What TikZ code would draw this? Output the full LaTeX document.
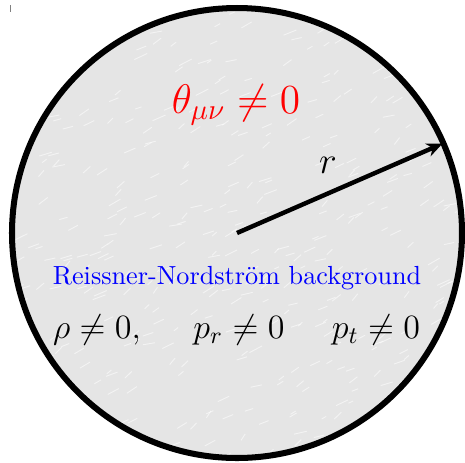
\RequirePackage{fix-cm}
\documentclass[tikz,border=0pt]{standalone}
\usepackage{amsmath}
\usepackage{amssymb}
\usetikzlibrary{arrows.meta,calc}

\begin{document}
\begin{tikzpicture}[
      x=0.382pt, y=-0.382pt,
      >={Stealth[length=6pt,width=5.2pt]},
      sphere/.style={draw=black, line width=2.3pt},
      radius arrow/.style={->, line width=1.7pt},
      lbl/.style={inner sep=0pt, anchor=base},
      big/.style={font=\fontsize{15.8}{19}\selectfont},
      mid/.style={font=\fontsize{13}{15}\selectfont}
    ]
      \useasboundingbox (0,0) rectangle (465,462);
      \clip (0,0) rectangle (465,462);
      \pgfmathsetseed{7}

      \coordinate (c) at (237,233);
      \coordinate (rim) at ($(c)+(-23.5:224)$);

      \fill[gray!20] (c) circle (225);
      % texture
      \begin{scope}
        \clip (c) circle (225);
        \foreach \i in {1,...,450}{
          \draw[white, opacity=.55, line width=.35pt]
            ($(c)+(rand*235,rand*235)$) -- ++(4+rnd*9,-2-rnd*5);
        }
      \end{scope}
      \draw[sphere] (c) circle (225);

      \draw[gray, line width=.5pt] (10.5,5) -- (10.5,11.5);

      \draw[radius arrow] (c) -- (rim);

      \node[lbl, text=red, big] (theta) at (236,113) {$\theta_{\mu\nu}\neq 0$};
      \node[lbl, font=\Large] (r) at (328,173) {$r$};
      \node[lbl, text=blue] (rn) at (237,284) {Reissner-Nordstr\"om background};
      \node[lbl, mid] (rho) at (97,338) {$\rho\neq 0,$};
      \node[lbl, mid] (pr) at (239,338) {$p_r\neq 0$};
      \node[lbl, mid] (pt) at (376,338) {$p_t\neq 0$};
    \end{tikzpicture}
\end{document}
